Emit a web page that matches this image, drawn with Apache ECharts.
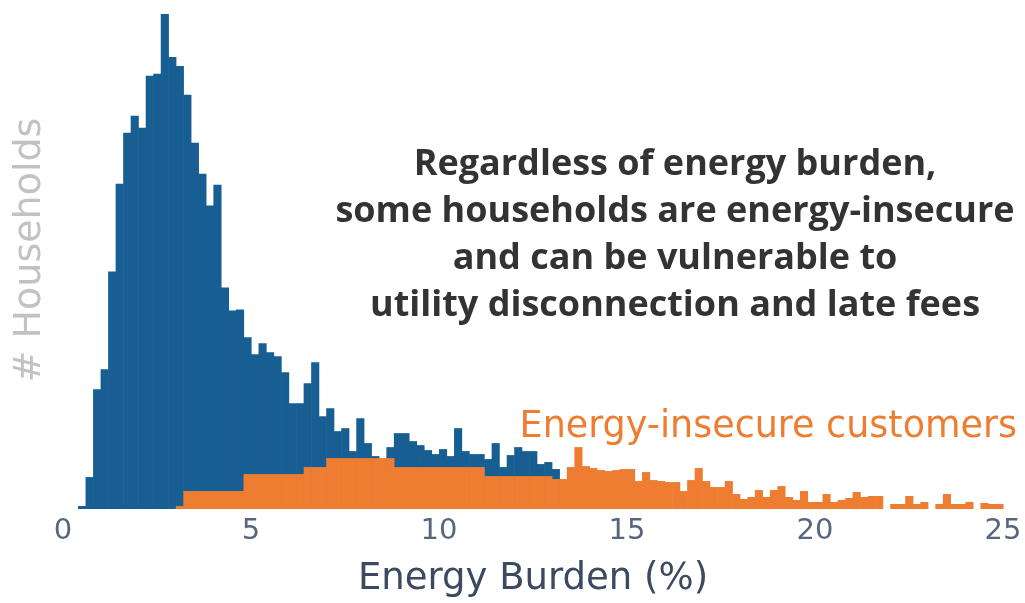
<!DOCTYPE html>
<html>
<head>
<meta charset="utf-8">
<script src="https://cdn.jsdelivr.net/npm/echarts@6/dist/echarts.min.js"></script>
<style>
html,body{margin:0;padding:0;background:#fff;}
#chart{width:1025px;height:603px;}
</style>
</head>
<body>
<div id="chart"></div>
<script>
// Histogram bins: left edge of each 0.2%-wide bin (Energy Burden, %)
const binWidth = 0.2;
const binLeft = [
  0.0,0.2,0.4,0.6,0.8,1.0,1.2,1.4,1.6,1.8,
  2.0,2.2,2.4,2.6,2.8,3.0,3.2,3.4,3.6,3.8,
  4.0,4.2,4.4,4.6,4.8,5.0,5.2,5.4,5.6,5.8,
  6.0,6.2,6.4,6.6,6.8,7.0,7.2,7.4,7.6,7.8,
  8.0,8.2,8.4,8.6,8.8,9.0,9.2,9.4,9.6,9.8,
  10.0,10.2,10.4,10.6,10.8,11.0,11.2,11.4,11.6,11.8,
  12.0,12.2,12.4,12.6,12.8,13.0,13.2,13.4,13.6,13.8,
  14.0,14.2,14.4,14.6,14.8,15.0,15.2,15.4,15.6,15.8,
  16.0,16.2,16.4,16.6,16.8,17.0,17.2,17.4,17.6,17.8,
  18.0,18.2,18.4,18.6,18.8,19.0,19.2,19.4,19.6,19.8,
  20.0,20.2,20.4,20.6,20.8,21.0,21.2,21.4,21.6,21.8,
  22.0,22.2,22.4,22.6,22.8,23.0,23.2,23.4,23.6,23.8,
  24.0,24.2,24.4,24.6,24.8
];

// All households (# households per bin, relative units)
const allHouseholds = [
  0,0,3,32,120,140,238,326,377,394,
  382,434,436,496,453,444,415,367,336,304,
  325,222,199,200,172,155,166,157,153,137,
  106,106,126,147,93,101,78,81,58,91,
  66,53,50,62,76,76,68,64,59,55,
  60,53,81,58,55,55,50,66,42,54,
  62,58,58,45,47,40,0,0,0,0,
  0,0,0,0,0,0,0,0,0,0,
  0,0,0,0,0,0,0,0,0,0,
  0,0,0,0,0,0,0,0,0,0,
  0,0,0,0,0,0,0,0,0,0,
  0,0,0,0,0,0,0,0,0,0,
  0,0,0,0,0
];

// Energy-insecure customers (# households per bin, relative units)
const insecureCustomers = [
  0,0,0,0,0,0,0,0,0,0,
  0,0,0,0,0,3,18,18,18,18,
  18,18,18,18,35,35,35,35,35,35,
  35,35,42,42,42,51,51,51,51,51,
  51,51,51,51,42,42,42,42,42,42,
  42,42,42,42,42,42,33,33,33,33,
  33,33,33,33,33,30,30,42,62,43,
  41,39,38,39,40,40,28,37,29,28,
  27,27,18,29,41,28,22,22,28,15,
  10,12,19,12,19,23,12,9,18,7,
  7,15,7,9,11,17,12,13,13,0,
  5,5,13,5,7,0,5,15,5,5,
  7,0,6,5,5
];

const xTicks = [0, 5, 10, 15, 20, 25];

const titleLines = [
  'Regardless of energy burden,',
  'some households are energy-insecure',
  'and can be vulnerable to',
  'utility disconnection and late fees'
];
const insecureLabel = 'Energy-insecure customers';
const yTitle = '# Households';
const xTitle = 'Energy Burden (%)';

const BLUE = '#175e92';
const ORANGE = '#ee7d31';
const FONT = '"Open Sans", "Noto Sans", sans-serif';
const FONT2 = '"DejaVu Sans", "Open Sans", sans-serif';

function toData(vals) {
  const out = [];
  for (let i = 0; i < vals.length; i++) {
    if (vals[i] > 0) out.push([binLeft[i], vals[i]]);
  }
  return out;
}

function renderBin(params, api) {
  const x0 = api.value(0);
  const v = api.value(1);
  const p1 = api.coord([x0, v]);
  const p2 = api.coord([x0 + binWidth, 0]);
  return {
    type: 'rect',
    shape: { x: p1[0], y: p1[1], width: p2[0] - p1[0] + 0.6, height: p2[1] - p1[1] },
    style: { fill: api.visual('color') }
  };
}

const chart = echarts.init(document.getElementById('chart'), null, { renderer: 'canvas' });
chart.setOption({
  animation: false,
  backgroundColor: '#ffffff',
  grid: { left: 63, right: 22, top: 10, height: 500 },
  xAxis: {
    type: 'value',
    min: xTicks[0],
    max: xTicks[xTicks.length - 1],
    interval: 5,
    axisLine: { show: false },
    axisTick: { show: false },
    splitLine: { show: false },
    axisLabel: {
      fontFamily: FONT2, fontSize: 29, color: '#56667e', margin: 8,
      formatter: v => (xTicks.indexOf(v) >= 0 ? String(v) : '')
    },
    name: xTitle,
    nameLocation: 'middle',
    nameGap: 52,
    nameTextStyle: { fontFamily: FONT2, fontSize: 37, color: '#3b4a60' }
  },
  yAxis: {
    type: 'value',
    min: 0,
    max: 500,
    show: true,
    axisLine: { show: false },
    axisTick: { show: false },
    axisLabel: { show: false },
    splitLine: { show: false }
  },
  series: [
    {
      name: 'All households',
      type: 'custom',
      renderItem: renderBin,
      itemStyle: { color: BLUE },
      encode: { x: 0, y: 1 },
      data: toData(allHouseholds),
      z: 2
    },
    {
      name: insecureLabel,
      type: 'custom',
      renderItem: renderBin,
      itemStyle: { color: ORANGE },
      encode: { x: 0, y: 1 },
      data: toData(insecureCustomers),
      z: 3
    }
  ],
  graphic: [
    {
      type: 'text',
      x: 675, y: 141,
      style: {
        text: titleLines.join('\n'),
        font: 'bold 36px ' + FONT,
        fill: '#333333',
        align: 'center',
        verticalAlign: 'top',
        lineHeight: 47
      },
      z: 10
    },
    {
      type: 'text',
      x: 1017, y: 428,
      style: {
        text: insecureLabel,
        font: '36.5px ' + FONT2,
        fill: ORANGE,
        align: 'right',
        verticalAlign: 'middle'
      },
      z: 10
    },
    {
      type: 'text',
      x: 30, y: 250,
      rotation: Math.PI / 2,
      style: {
        text: yTitle,
        font: '38px ' + FONT2,
        fill: '#c2c2c2',
        align: 'center',
        verticalAlign: 'middle'
      },
      z: 10
    }
  ]
});
</script>
</body>
</html>
